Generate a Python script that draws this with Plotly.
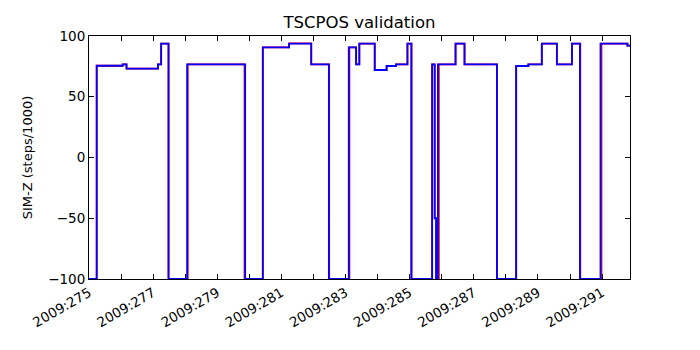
import plotly.graph_objects as go

# day-of-year 2009 change points (step data, value holds until next time)
blue_t = [275.0, 275.24, 276.05, 276.17, 277.15, 277.25, 277.48, 278.06, 279.87, 280.42,
          281.24, 281.93, 282.48, 283.10, 283.33, 283.43, 283.91, 284.28, 284.57, 284.93,
          285.05, 285.70, 285.78, 285.82, 285.88, 286.43, 286.71, 287.72, 288.32, 288.70,
          289.12, 289.59, 290.06, 290.31, 290.95, 291.79, 291.87]
blue_z = [-100, 75.5, 76.7, 73.1, 76.7, 93.7, -100, 76.7, -100, 90.7,
          93.7, 76.7, -100, 90.7, 76.7, 93.7, 72.0, 75.3, 76.7, 93.7,
          -100, 76.7, -50, -100, 76.7, 93.7, 76.7, -100, 75.3, 76.7,
          93.7, 76.7, 93.7, -100, 93.7, 92.0, 92.0]

red_t = [275.0, 275.24, 276.05, 276.17, 277.15, 277.25, 277.48, 278.08, 279.85, 280.42,
         281.24, 281.93, 282.49, 283.12, 283.33, 283.43, 283.91, 284.28, 284.57, 284.93,
         285.06, 285.70, 285.78, 285.84, 285.91, 286.43, 286.71, 287.72, 288.32, 288.70,
         289.12, 289.59, 290.06, 290.32, 290.98, 291.79, 291.87]
red_z = [-100, 75.5, 76.7, 73.1, 76.7, 93.7, -100, 76.7, -100, 90.7,
         94.0, 76.7, -100, 90.7, 76.7, 93.7, 72.0, 75.3, 76.7, 93.7,
         -100, 76.7, -50, -100, 76.7, 93.7, 76.7, -100, 75.3, 76.7,
         93.7, 76.7, 93.7, -100, 93.7, 92.0, 92.0]

days = list(range(275, 292))
day_labels = ["2009:%d" % d if d % 2 == 1 else "" for d in days]
y_ticks = [-100, -50, 0, 50, 100]

fig = go.Figure()
fig.add_trace(go.Scatter(x=red_t, y=red_z, mode="lines", line=dict(color="#ff0000", width=1.8, shape="hv"),
                         showlegend=False))
fig.add_trace(go.Scatter(x=blue_t, y=blue_z, mode="lines", line=dict(color="#0000ff", width=1.8, shape="hv"),
                         showlegend=False))

fig.update_xaxes(range=[275.0, 291.87], tickvals=days, ticktext=day_labels, tickangle=-30,
                 ticks="inside", ticklen=5, tickcolor="black", showline=True, linecolor="black",
                 linewidth=1, mirror="ticks", showgrid=False, zeroline=False, automargin=False,
                 tickfont=dict(size=13.5, color="black"))
fig.update_yaxes(range=[-100, 100], tickvals=y_ticks, ticks="inside", ticklen=5, tickcolor="black",
                 showline=True, linecolor="black", linewidth=1, mirror="ticks", showgrid=False,
                 zeroline=False, automargin=False, tickfont=dict(size=13.5, color="black"),
                 title=dict(text="SIM-Z (steps/1000)", font=dict(size=13, color="black"), standoff=12))

# page body adds 8px offset, so margins are shifted to keep the plot box in place
fig.update_layout(
    width=700, height=350,
    margin=dict(l=81, r=78, t=28, b=79),
    plot_bgcolor="white", paper_bgcolor="white",
    font=dict(family="DejaVu Sans", color="black"),
    title=dict(text="TSCPOS validation", x=351.5 / 700, xanchor="center",
               y=1 - 14 / 350, yanchor="middle", font=dict(size=16.5, color="black")),
)

fig.write_html("out.html")
